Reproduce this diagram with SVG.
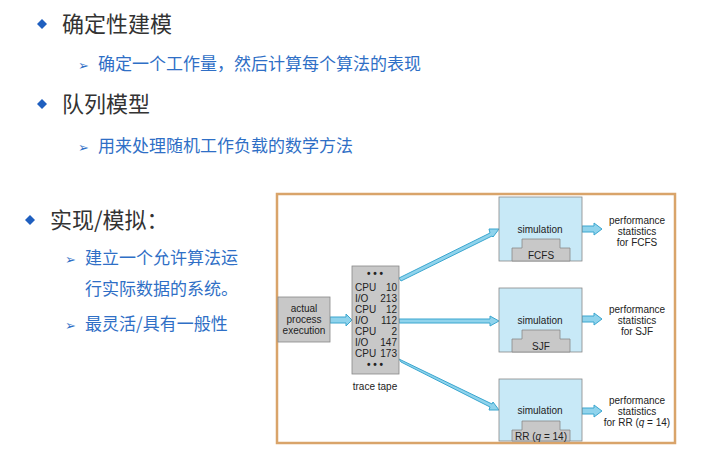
<svg xmlns="http://www.w3.org/2000/svg" width="715" height="466" viewBox="0 0 715 466">
<style>
.h{font-family:"Noto Sans CJK SC","Noto Sans",sans-serif;font-size:22px;fill:#333}
.s{font-family:"Noto Sans CJK SC","Noto Sans",sans-serif;font-size:17px;fill:#2f6fc6}
.d{fill:#1f5fbf}
.c{fill:#2f6fc6}
.t{font-family:"Liberation Sans",Arial,sans-serif;font-size:10px;fill:#222}
.g{fill:#c8c8c8;stroke:#888;stroke-width:0.8}
.sim{fill:#c8e9f7;stroke:#888;stroke-width:0.8}
.ar{fill:#8fd3ec;stroke:#3aa6cf;stroke-width:1}
</style>
<rect width="715" height="466" fill="#fff"/>
<g id="text">
<polygon class="d" points="42,19 47,24 42,29 37,24"/>
<text class="h" x="62" y="32">确定性建模</text>
<text class="c" x="78" y="70" style="font-family:'DejaVu Sans';font-size:13px">➢</text>
<text class="s" x="98" y="70">确定一个工作量，然后计算每个算法的表现</text>
<polygon class="d" points="42,99 47,104 42,109 37,104"/>
<text class="h" x="62" y="112">队列模型</text>
<text class="c" x="78" y="152" style="font-family:'DejaVu Sans';font-size:13px">➢</text>
<text class="s" x="98" y="152">用来处理随机工作负载的数学方法</text>
<polygon class="d" points="30,215 35,220 30,225 25,220"/>
<text class="h" x="50" y="228">实现/模拟：</text>
<text class="c" x="65" y="264" style="font-family:'DejaVu Sans';font-size:13px">➢</text>
<text class="s" x="85" y="264">建立一个允许算法运</text>
<text class="s" x="85" y="295">行实际数据的系统。</text>
<text class="c" x="65" y="330" style="font-family:'DejaVu Sans';font-size:13px">➢</text>
<text class="s" x="85" y="330">最灵活/具有一般性</text>
</g>
<rect x="277" y="194" width="398" height="249" fill="#fff" stroke="#d9a46a" stroke-width="2.5"/>
<g id="connectors">
<polygon class="ar" points="330,317 346,317 346,314 352,320 346,326 346,323 330,323"/>
<polygon class="ar" points="399,278 490,233 489,229 499,229 493,237 492,236 401,281"/>
<polygon class="ar" points="399,319 490,319 490,316 499,321 490,326 490,323 399,323"/>
<polygon class="ar" points="399,359 492,404 493,402 499,410 489,410 490,407 401,362"/>
<polygon class="ar" points="582,226 594,226 594,223 602,229 594,235 594,232 582,232"/>
<polygon class="ar" points="582,316 594,316 594,313 602,319 594,325 594,322 582,322"/>
<polygon class="ar" points="582,408 594,408 594,405 602,411 594,417 594,414 582,414"/>
</g>
<g id="actual">
<rect class="g" x="278" y="297" width="52" height="45"/>
<text class="t" x="304" y="312" text-anchor="middle">actual</text>
<text class="t" x="304" y="323" text-anchor="middle">process</text>
<text class="t" x="304" y="334" text-anchor="middle">execution</text>
</g>
<g id="tape">
<rect class="g" x="352" y="266" width="47" height="108"/>
<text class="t" x="375" y="277" text-anchor="middle" font-weight="bold">• • •</text>
<text class="t" x="355" y="291">CPU</text><text class="t" x="397" y="291" text-anchor="end">10</text>
<text class="t" x="355" y="302">I/O</text><text class="t" x="397" y="302" text-anchor="end">213</text>
<text class="t" x="355" y="313">CPU</text><text class="t" x="397" y="313" text-anchor="end">12</text>
<text class="t" x="355" y="324">I/O</text><text class="t" x="397" y="324" text-anchor="end">112</text>
<text class="t" x="355" y="335">CPU</text><text class="t" x="397" y="335" text-anchor="end">2</text>
<text class="t" x="355" y="346">I/O</text><text class="t" x="397" y="346" text-anchor="end">147</text>
<text class="t" x="355" y="357">CPU</text><text class="t" x="397" y="357" text-anchor="end">173</text>
<text class="t" x="375" y="368" text-anchor="middle" font-weight="bold">• • •</text>
<text class="t" x="375" y="390" text-anchor="middle">trace tape</text>
</g>
<g id="fcfs">
<rect class="sim" x="499" y="197" width="83" height="64"/>
<text class="t" x="540" y="233" text-anchor="middle">simulation</text>
<polygon class="g" points="512,261 512,248 522,248 522,239 560,239 560,248 570,248 570,261"/>
<text class="t" x="541" y="259" text-anchor="middle">FCFS</text>
<text class="t" x="637" y="224" text-anchor="middle">performance</text>
<text class="t" x="637" y="235" text-anchor="middle">statistics</text>
<text class="t" x="637" y="246" text-anchor="middle">for FCFS</text>
</g>
<g id="sjf">
<rect class="sim" x="499" y="288" width="83" height="64"/>
<text class="t" x="540" y="324" text-anchor="middle">simulation</text>
<polygon class="g" points="512,352 512,339 522,339 522,330 560,330 560,339 570,339 570,352"/>
<text class="t" x="541" y="350" text-anchor="middle">SJF</text>
<text class="t" x="637" y="313" text-anchor="middle">performance</text>
<text class="t" x="637" y="324" text-anchor="middle">statistics</text>
<text class="t" x="637" y="335" text-anchor="middle">for SJF</text>
</g>
<g id="rr">
<rect class="sim" x="499" y="379" width="83" height="62"/>
<text class="t" x="540" y="414" text-anchor="middle">simulation</text>
<polygon class="g" points="512,441 512,430 522,430 522,421 560,421 560,430 570,430 570,441"/>
<text class="t" x="541" y="440" text-anchor="middle">RR (<tspan font-style="italic">q</tspan> = 14)</text>
<text class="t" x="637" y="404" text-anchor="middle">performance</text>
<text class="t" x="637" y="415" text-anchor="middle">statistics</text>
<text class="t" x="637" y="426" text-anchor="middle">for RR (<tspan font-style="italic">q</tspan> = 14)</text>
</g>
</svg>
